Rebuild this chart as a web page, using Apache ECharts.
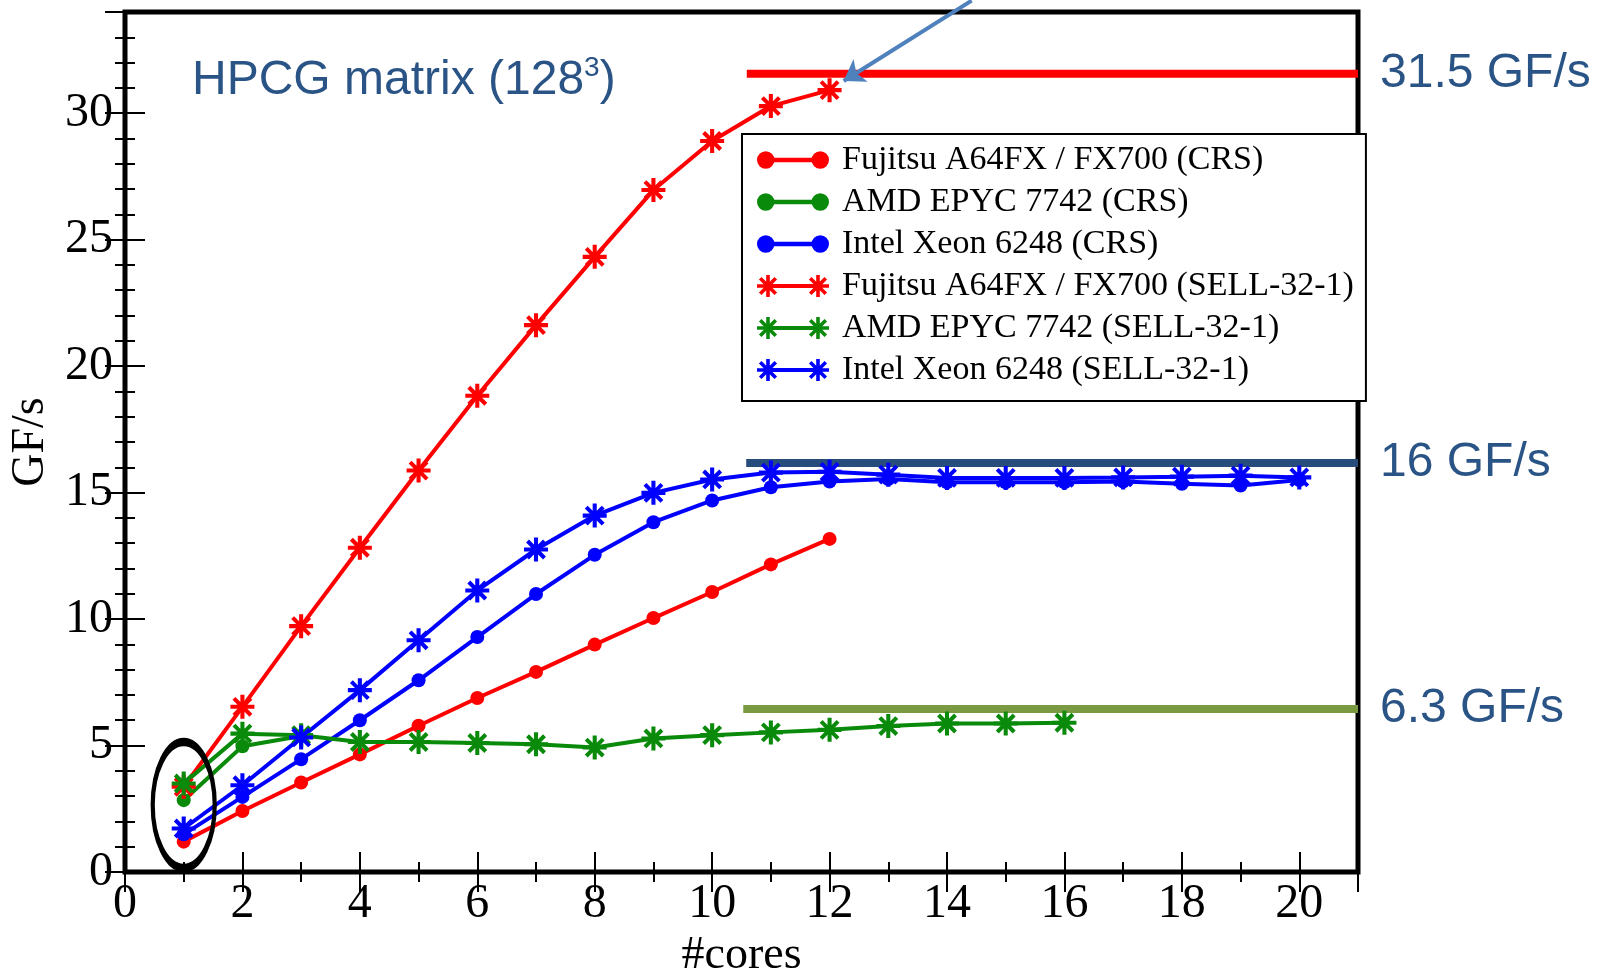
<!DOCTYPE html>
<html>
<head>
<meta charset="utf-8">
<script src="https://cdn.jsdelivr.net/npm/echarts@6/dist/echarts.min.js"></script>
<style>
  html, body { margin: 0; padding: 0; background: #fff; }
  #chart { width: 1606px; height: 970px; }
</style>
</head>
<body>
<div id="chart"></div>
<script>
var cores = [1, 2, 3, 4, 5, 6, 7, 8, 9, 10, 11, 12, 13, 14, 15, 16, 17, 18, 19, 20];

var fujitsuCrs = [1.20, 2.41, 3.54, 4.65, 5.78, 6.88, 7.91, 8.99, 10.04, 11.07, 12.16, 13.17];
var amdCrs = [2.84, 4.97, 5.38];
var intelCrs = [1.49, 2.97, 4.46, 6.00, 7.58, 9.29, 10.99, 12.54, 13.83, 14.69, 15.21, 15.44,
                15.54, 15.41, 15.41, 15.41, 15.44, 15.35, 15.28, 15.50];
var fujitsuSell = [3.37, 6.53, 9.72, 12.82, 15.87, 18.83, 21.62, 24.32, 26.96, 28.90, 30.28, 30.91];
var amdSell = [3.50, 5.47, 5.41, 5.14, 5.14, 5.10, 5.05, 4.92, 5.28, 5.41, 5.52, 5.62,
               5.77, 5.87, 5.87, 5.90];
var intelSell = [1.72, 3.43, 5.32, 7.19, 9.16, 11.13, 12.75, 14.09, 14.99, 15.52, 15.79, 15.82,
                 15.71, 15.58, 15.58, 15.58, 15.60, 15.63, 15.67, 15.60];

var seriesNames = ['Fujitsu A64FX / FX700 (CRS)', 'AMD EPYC 7742 (CRS)', 'Intel Xeon 6248 (CRS)',
                   'Fujitsu A64FX / FX700 (SELL-32-1)', 'AMD EPYC 7742 (SELL-32-1)', 'Intel Xeon 6248 (SELL-32-1)'];

// peak lines: start core, end core, GF/s, label
var peakStart = [10.59, 10.58, 10.53];
var peakEnd = [21, 21, 21];
var peakValue = [31.56, 16.17, 6.44];
var peakLabels = ['31.5 GF/s', '16 GF/s', '6.3 GF/s'];

// arrow to the last SELL point of A64FX, and the ellipse round the 1-core points
var arrowFrom = [14.42, 34.45];
var arrowTo = [12.24, 31.27];
var ellipseAt = [1, 2.65];

var RED = '#ff0000', GREEN = '#0a8a0a', BLUE = '#0000ff';
var NAVY = '#2a5485';
var peakColors = ['#ff0000', '#264d7b', '#7a9a42'];
var serif = 'Liberation Serif';
var sans = 'Liberation Sans';

function starPath(cx, cy, r, t) {
  var h = t / 2, d = h / Math.SQRT2, s = r / Math.SQRT2;
  function pt(x, y) { return (cx + x).toFixed(2) + ',' + (cy + y).toFixed(2); }
  var p = '';
  p += 'M' + pt(-h, -r) + 'L' + pt(h, -r) + 'L' + pt(h, r) + 'L' + pt(-h, r) + 'Z';
  p += 'M' + pt(-r, -h) + 'L' + pt(r, -h) + 'L' + pt(r, h) + 'L' + pt(-r, h) + 'Z';
  p += 'M' + pt(-s - d, -s + d) + 'L' + pt(-s + d, -s - d) + 'L' + pt(s + d, s - d) + 'L' + pt(s - d, s + d) + 'Z';
  p += 'M' + pt(s - d, -s - d) + 'L' + pt(s + d, -s + d) + 'L' + pt(-s + d, s + d) + 'L' + pt(-s - d, s - d) + 'Z';
  return p;
}
var STAR = 'path://' + starPath(10, 10, 10, 3.4);
var ICON_STAR = 'path://' + starPath(11, 11, 11, 3.6) + starPath(61, 11, 11, 3.6) +
  'M11,9L61,9L61,13L11,13Z';
var ICON_DOT = 'path://M3,11A8,8 0 1,1 19,11A8,8 0 1,1 3,11Z M53,11A8,8 0 1,1 69,11A8,8 0 1,1 53,11Z' +
  'M11,9L61,9L61,13L11,13Z';

function pairs(vals) {
  return vals.map(function(v, i) { return [cores[i], v]; });
}

function dataSeries(name, vals, color, star) {
  return {
    type: 'line',
    name: name,
    data: pairs(vals),
    symbol: star ? STAR : 'circle',
    symbolSize: star ? 24 : 14,
    itemStyle: { color: color, borderWidth: 0 },
    lineStyle: { color: color, width: 4 },
    z: 3
  };
}

var series = [
  dataSeries(seriesNames[0], fujitsuCrs, RED, false),
  dataSeries(seriesNames[1], amdCrs, GREEN, false),
  dataSeries(seriesNames[2], intelCrs, BLUE, false),
  dataSeries(seriesNames[3], fujitsuSell, RED, true),
  dataSeries(seriesNames[4], amdSell, GREEN, true),
  dataSeries(seriesNames[5], intelSell, BLUE, true)
];

peakValue.forEach(function(v, i) {
  series.push({
    type: 'line',
    name: 'peak' + i,
    data: [[peakStart[i], v], [peakEnd[i], v]],
    symbol: 'none',
    silent: true,
    lineStyle: { color: peakColors[i], width: 8 },
    endLabel: {
      show: true,
      formatter: peakLabels[i],
      distance: 22,
      fontFamily: sans,
      fontSize: 48,
      color: NAVY
    },
    z: 2
  });
});

series.push({
  type: 'lines',
  coordinateSystem: 'cartesian2d',
  clip: false,
  silent: true,
  symbol: ['none', 'arrow'],
  symbolSize: 20,
  lineStyle: { color: '#4f81bd', width: 4, opacity: 1 },
  data: [{ coords: [arrowFrom, arrowTo] }],
  z: 4
});

series.push({
  type: 'scatter',
  name: 'ellipse',
  data: [ellipseAt],
  symbol: 'circle',
  symbolSize: [62, 126],
  silent: true,
  itemStyle: { color: 'rgba(0,0,0,0)', borderColor: '#000', borderWidth: 6, opacity: 1 },
  z: 5
});

function axisX(pos, step, len, labels) {
  return {
    type: 'value', min: 0, max: 21, interval: step, position: pos,
    axisLine: { show: false },
    splitLine: { show: false },
    axisTick: { inside: true, length: len, lineStyle: { color: '#000', width: 2 } },
    axisLabel: { show: labels, showMaxLabel: false, fontFamily: serif, fontSize: 48, color: '#000', margin: 8 },
    name: labels ? '#cores' : '',
    nameLocation: 'middle',
    nameGap: 52,
    nameTextStyle: { fontFamily: serif, fontSize: 46, color: '#000' }
  };
}
function axisY(pos, step, len, labels) {
  return {
    type: 'value', min: 0, max: 34, interval: step, position: pos,
    axisLine: { show: false },
    splitLine: { show: false },
    axisTick: { inside: true, length: len, lineStyle: { color: '#000', width: 2 } },
    axisLabel: { show: labels, showMaxLabel: false, fontFamily: serif, fontSize: 48, color: '#000', margin: 12 },
    name: labels ? 'GF/s' : '',
    nameLocation: 'middle',
    nameGap: 57,
    nameTextStyle: { fontFamily: serif, fontSize: 46, color: '#000' }
  };
}

var chart = echarts.init(document.getElementById('chart'));
chart.setOption({
  animation: false,
  backgroundColor: '#fff',
  title: {
    text: '{a|HPCG matrix (128}{s|3}{a|)}',
    left: 192,
    top: 54,
    padding: 0,
    textStyle: {
      rich: {
        a: { fontFamily: sans, fontSize: 48, fontWeight: 'normal', color: NAVY, lineHeight: 54 },
        s: { fontFamily: sans, fontSize: 28, fontWeight: 'normal', color: NAVY, lineHeight: 28, verticalAlign: 'top' }
      }
    }
  },
  grid: {
    left: 125, right: 248, top: 12, bottom: 98,
    outerBoundsMode: 'none',
    containLabel: false,
    show: true, borderColor: '#000', borderWidth: 5, backgroundColor: 'transparent'
  },
  legend: {
    orient: 'vertical',
    left: 742,
    top: 134,
    data: seriesNames.map(function(n, i) { return { name: n, icon: i < 3 ? ICON_DOT : ICON_STAR }; }),
    itemWidth: 72,
    itemHeight: 22,
    itemGap: 8,
    padding: [9, 12, 14, 15],
    backgroundColor: '#fff',
    borderColor: '#000',
    borderWidth: 2,
    borderRadius: 0,
    selectedMode: false,
    textStyle: { fontFamily: serif, fontSize: 34, color: '#000', padding: [0, 0, 0, 8] },
    z: 10
  },
  xAxis: [
    axisX('bottom', 2, 20, true),
    axisX('bottom', 1, 10, false),
    axisX('top', 2, 20, false),
    axisX('top', 1, 10, false)
  ],
  yAxis: [
    axisY('left', 5, 20, true),
    axisY('left', 1, 10, false),
    axisY('right', 5, 20, false),
    axisY('right', 1, 10, false)
  ],
  series: series
});
window.addEventListener('resize', function() { chart.resize(); });
</script>
</body>
</html>
